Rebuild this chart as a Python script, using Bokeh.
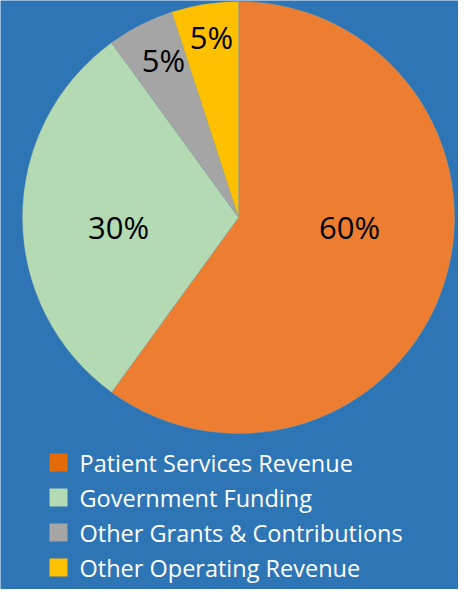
import numpy as np
from bokeh.plotting import figure
from bokeh.models import Range1d, ColumnDataSource
from bokeh.core.properties import value
from bokeh.embed import file_html
from bokeh.resources import INLINE

# ---- data ----
categories = ["Patient Services Revenue", "Government Funding",
              "Other Grants & Contributions", "Other Operating Revenue"]
shares = [60, 30, 5, 5]
slice_colors = ["#ED7D31", "#B3DAB3", "#A5A5A5", "#FFC000"]
legend_colors = ["#E36C09", "#B3DAB3", "#A5A5A5", "#FFC000"]
labels = [f"{v}%" for v in shares]

# ---- layout ----
W, H = 458, 589
BG = "#2E75B6"
FONT = "Open Sans"
cx, cy, R = 238, H - 217, 216
# label offsets from the pie centre (px, y downward)
label_dx = [111, -120, -75, -27]
label_dy = [9, 9, -158, -181]

frac = np.array(shares, dtype=float) / sum(shares)
cum = np.concatenate([[0.0], np.cumsum(frac)])
start = np.pi / 2 - cum[1:] * 2 * np.pi
end = np.pi / 2 - cum[:-1] * 2 * np.pi

p = figure(width=W, height=H, output_backend="svg", toolbar_location=None,
           x_range=Range1d(0, W), y_range=Range1d(0, H),
           min_border=0, background_fill_color=BG, border_fill_color=BG)
p.axis.visible = False
p.grid.visible = False
p.outline_line_color = None

src = ColumnDataSource(dict(start=start, end=end, color=slice_colors, cat=categories))
p.wedge(x=cx, y=cy, radius=R, start_angle="start", end_angle="end",
        fill_color="color", line_color="#9aa89a", line_width=0.6, line_alpha=0.6,
        source=src)

lab = ColumnDataSource(dict(x=[cx + d for d in label_dx],
                            y=[cy - d for d in label_dy], t=labels))
p.text(x="x", y="y", text="t", source=lab, text_align="center",
       text_baseline="middle", text_color="black",
       text_font=value(FONT), text_font_size="31px")

# ---- legend ----
row0, step = 462, 35
ly = [H - (row0 + i * step) for i in range(len(categories))]
leg = ColumnDataSource(dict(x=[58] * len(categories), tx=[79] * len(categories),
                            y=ly, color=legend_colors, t=categories))
p.rect(x="x", y="y", width=18, height=18, fill_color="color", line_color=None,
       source=leg)
p.text(x="tx", y="y", text="t", source=leg, text_align="left",
       text_baseline="middle", text_color="white",
       text_font=value(FONT), text_font_size="23.5px")

open("out.html", "w").write(file_html(p, INLINE))
